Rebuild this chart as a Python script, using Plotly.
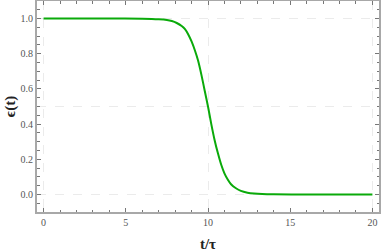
import plotly.graph_objects as go

# values
t_vals = [0, 2, 4, 6, 7, 7.5, 7.8, 8.1, 8.4, 8.6, 8.8, 9.0, 9.2, 9.4, 9.6, 9.8, 10.0,
          10.2, 10.4, 10.6, 10.8, 11.0, 11.2, 11.4, 11.7, 12.0, 12.4, 12.8, 13.3, 14, 16, 18, 20]
eps_vals = [1.0, 1.0, 1.0, 0.999, 0.996, 0.992, 0.986, 0.975, 0.958, 0.94, 0.91, 0.87,
            0.82, 0.76, 0.68, 0.59, 0.50, 0.40, 0.31, 0.235, 0.17, 0.12, 0.085, 0.058,
            0.035, 0.02, 0.01, 0.005, 0.002, 0.0005, 0.0, 0.0, 0.0]

x_ticks = [0, 5, 10, 15, 20]
y_ticks = [0.0, 0.2, 0.4, 0.6, 0.8, 1.0]
y_tick_labels = ["0.0", "0.2", "0.4", "0.6", "0.8", "1.0"]
x_grid = [0, 10, 20]
y_grid = [0.0, 0.5, 1.0]

x_range = [-0.4, 20.4]
y_range = [-0.1, 1.1]

FONT = "Liberation Serif"

fig = go.Figure()
fig.add_trace(go.Scatter(x=t_vals, y=eps_vals, mode="lines",
                         line=dict(color="#0aaa0a", width=2, shape="spline", smoothing=0.8),
                         showlegend=False, hoverinfo="skip"))
# empty trace so the grid-only overlay axes are drawn
fig.add_trace(go.Scatter(x=[], y=[], xaxis="x2", yaxis="y2", showlegend=False, hoverinfo="skip"))

grid_common = dict(showgrid=True, gridcolor="#ebebeb", griddash="dash", gridwidth=1,
                   showticklabels=False, ticks="", showline=False, zeroline=False,
                   automargin=False)

axis_common = dict(showgrid=False, zeroline=False, showline=True, linecolor="#a8a8a8",
                   linewidth=2, mirror="allticks", ticks="inside", ticklen=4,
                   tickwidth=1, tickcolor="#777", automargin=False,
                   tickfont=dict(family=FONT, size=10, color="#555"))

fig.update_layout(
    width=381, height=252,
    margin=dict(l=37, r=2, t=1, b=40),
    paper_bgcolor="white", plot_bgcolor="rgba(0,0,0,0)",
    xaxis=dict(range=x_range, tickmode="array", tickvals=x_ticks,
               minor=dict(dtick=1, tick0=0, ticks="inside", ticklen=2.5, tickcolor="#777"),
               title=dict(text="<b>t/τ</b>", font=dict(family=FONT, size=15, color="#222"), standoff=11),
               **axis_common),
    yaxis=dict(range=y_range, tickmode="array", tickvals=y_ticks, ticktext=y_tick_labels,
               minor=dict(dtick=0.05, tick0=0, ticks="inside", ticklen=2.5, tickcolor="#777"),
               title=dict(text="<b>ϵ(t)</b>", font=dict(family=FONT, size=15, color="#222"), standoff=1),
               **axis_common),
    xaxis2=dict(overlaying="x", anchor="y2", side="bottom", range=x_range,
                tickmode="array", tickvals=x_grid, **grid_common),
    yaxis2=dict(overlaying="y", anchor="x2", side="left", range=y_range,
                tickmode="array", tickvals=y_grid, **grid_common),
)

fig.write_html("out.html", config={"displayModeBar": False},
               post_script="document.body.style.margin='0';")
